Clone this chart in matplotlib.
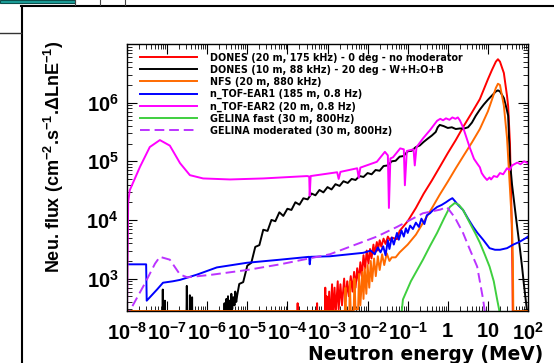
import numpy as np
import matplotlib
matplotlib.use("Agg")
import matplotlib.pyplot as plt
from matplotlib.ticker import LogLocator, NullFormatter
from matplotlib.lines import Line2D
from matplotlib.patches import Rectangle

plt.rcParams['font.family'] = ['Liberation Sans', 'DejaVu Sans']
plt.rcParams['font.weight'] = 'bold'
plt.rcParams['mathtext.fontset'] = 'custom'
plt.rcParams['mathtext.rm'] = 'Liberation Sans:bold'
plt.rcParams['mathtext.it'] = 'Liberation Sans:bold'
plt.rcParams['mathtext.bf'] = 'Liberation Sans:bold'
plt.rcParams['mathtext.default'] = 'rm'

# ---------------- data (energy in MeV, flux per lethargy) ----------------
x_ticks = [1e-8, 1e-7, 1e-6, 1e-5, 1e-4, 1e-3, 1e-2, 1e-1, 1, 10, 100]
x_tick_labels = ['$10^{-8}$', '$10^{-7}$', '$10^{-6}$', '$10^{-5}$', '$10^{-4}$',
                 '$10^{-3}$', '$10^{-2}$', '$10^{-1}$', '$1$', '$10$', '$10^{2}$']
y_ticks = [1e3, 1e4, 1e5, 1e6]
y_tick_labels = ['$10^{3}$', '$10^{4}$', '$10^{5}$', '$10^{6}$']

labels = ['DONES (20 m, 175 kHz) - 0 deg - no moderator',
          'DONES (10 m, 88 kHz) - 20 deg - W+H\u2082O+B',
          'NFS (20 m, 880 kHz)',
          'n_TOF-EAR1 (185 m, 0.8 Hz)',
          'n_TOF-EAR2 (20 m, 0.8 Hz)',
          'GELINA fast (30 m, 800Hz)',
          'GELINA moderated (30 m, 800Hz)']

dones20_E = [1e-8, 1.7e-4, 1.8e-4, 1.9e-4, 5.3e-4, 5.5e-4, 5.7e-4, 8.5e-4, 8.8e-4, 9.0e-4,
             9.5e-4, 1.0e-3, 1.1e-3, 1.15e-3, 1.3e-3, 1.35e-3, 1.5e-3, 1.6e-3, 1.8e-3, 1.9e-3,
             2.1e-3, 2.3e-3, 2.6e-3, 2.8e-3, 3.1e-3, 3.4e-3, 3.8e-3, 4.2e-3, 4.6e-3, 5.0e-3,
             5.5e-3, 6.0e-3, 6.6e-3, 7.2e-3, 7.9e-3, 8.7e-3, 9.5e-3, 1.05e-2, 1.15e-2, 1.25e-2,
             1.4e-2, 1.5e-2, 1.7e-2, 1.8e-2, 2.0e-2, 2.2e-2, 2.5e-2, 2.8e-2, 3.2e-2, 3.6e-2,
             4.0e-2, 5.4e-2, 6.3e-2, 0.1, 0.16, 0.25, 0.4, 0.63, 1.0, 1.58, 2.5, 4.0,
             6.3, 10, 12.6, 15.8, 17.8, 20, 25, 30, 32, 35.5, 40, 42]
dones20_F = [100, 100, 380, 100, 100, 380, 100, 100, 700, 150,
             500, 100, 600, 150, 800, 200, 700, 250, 900, 300,
             800, 350, 1000, 400, 900, 500, 1100, 600, 1300, 700,
             1500, 900, 1900, 1100, 2500, 1500, 3000, 1800, 3200, 2200,
             3800, 2600, 4200, 3000, 4500, 3500, 4800, 3900, 5200, 4500,
             5000, 4700, 6500, 9.5e3, 1.6e4, 2.8e4, 4.7e4, 8.0e4, 1.38e5, 2.3e5, 4.0e5, 6.8e5,
             1.15e6, 2.5e6, 3.6e6, 5.0e6, 5.5e6, 5.0e6, 3.2e6, 1.3e6, 8.7e5, 2.0e5, 5.0e3, 150]

dones10_E = [1e-8, 7.6e-8, 7.8e-8, 8.0e-8, 8.6e-8, 8.8e-8, 9.0e-8,
             3.0e-7, 3.1e-7, 3.2e-7, 3.6e-7, 3.7e-7, 3.8e-7, 4.1e-7, 4.2e-7, 4.3e-7,
             2.6e-6, 2.7e-6, 2.8e-6, 3.0e-6, 3.1e-6, 3.3e-6, 3.4e-6, 3.6e-6, 3.8e-6,
             4.0e-6, 4.2e-6, 4.5e-6, 4.8e-6, 5.0e-6, 5.3e-6, 5.6e-6,
             6.3e-6, 7.9e-6, 1.0e-5, 1.26e-5, 1.58e-5, 2.0e-5, 2.5e-5, 3.2e-5, 4.0e-5, 5.0e-5,
             6.3e-5, 7.9e-5, 1.0e-4, 1.26e-4, 1.58e-4, 2.0e-4, 2.5e-4, 3.2e-4, 4.0e-4, 5.0e-4,
             6.3e-4, 7.9e-4, 1.0e-3, 1.26e-3, 1.58e-3, 2.0e-3, 2.5e-3, 3.2e-3, 4.0e-3, 5.0e-3,
             6.3e-3, 7.9e-3, 1.0e-2, 1.26e-2, 1.58e-2, 2.0e-2, 2.5e-2, 3.2e-2, 4.0e-2, 5.0e-2,
             6.3e-2, 7.9e-2, 0.1, 0.126, 0.158, 0.2, 0.25, 0.32, 0.4, 0.5, 0.56, 0.63, 0.79,
             1.0, 1.26, 1.58, 2.0, 2.5, 3.2, 4.0, 5.0, 6.3, 7.9, 10, 12.6, 15.8, 17.8, 20, 25,
             28, 32, 35.5, 40, 50, 63, 71, 79, 89, 100]
dones10_F = [100, 100, 650, 100, 100, 420, 100,
             100, 750, 100, 100, 520, 100, 100, 480, 100,
             100, 380, 100, 450, 150, 500, 200, 420, 250,
             550, 300, 480, 350, 600, 400, 520,
             810, 870, 1.66e3, 1.86e3, 3.47e3, 3.72e3, 6.8e3, 6.5e3, 1.0e4, 9.5e3,
             1.35e4, 1.17e4, 1.55e4, 1.48e4, 2.0e4, 1.82e4, 2.34e4, 2.24e4, 2.82e4, 2.63e4,
             3.24e4, 2.95e4, 3.63e4, 3.31e4, 4.07e4, 3.8e4, 4.57e4, 4.27e4, 5.0e4, 4.8e4,
             5.6e4, 5.4e4, 6.3e4, 6.0e4, 7.1e4, 6.9e4, 8.3e4, 8.5e4, 1.0e5, 1.02e5,
             1.2e5, 1.23e5, 1.48e5, 1.51e5, 1.74e5, 1.86e5, 2.14e5, 2.45e5, 2.75e5, 3.16e5, 3.8e5, 4.17e5, 3.98e5,
             3.7e5, 3.8e5, 3.55e5, 3.63e5, 3.6e5, 3.8e5, 4.57e5, 6.0e5, 7.6e5, 9.3e5, 1.12e6, 1.32e6, 1.55e6, 1.62e6, 1.55e6, 1.2e6,
             8.9e5, 6.0e5, 1.0e5, 4.0e4, 1.12e4, 3.2e3, 1.6e3, 800, 400, 200]

nfs_E = [1e-8, 2.7e-3, 2.8e-3, 2.9e-3, 3.5e-3, 3.6e-3, 3.8e-3, 4.5e-3, 4.7e-3, 5.0e-3,
         5.8e-3, 6.1e-3, 6.6e-3, 7.4e-3, 7.9e-3, 8.5e-3, 9.3e-3, 1.0e-2, 1.1e-2, 1.2e-2,
         1.3e-2, 1.45e-2, 1.6e-2, 1.8e-2, 2.0e-2, 2.3e-2, 2.6e-2, 3.0e-2, 3.5e-2, 4.0e-2,
         5.0e-2, 6.3e-2, 0.1, 0.16, 0.25, 0.4, 0.63, 1.0, 1.58, 2.5, 4.0, 6.3, 10, 12.6,
         15.8, 17.8, 20, 25, 30, 35, 40, 42, 43, 100]
nfs_F = [280, 280, 700, 280, 280, 900, 280, 280, 1000, 300,
         300, 1200, 350, 1300, 450, 1500, 550, 1700, 700, 2000,
         900, 2200, 1100, 2400, 1400, 2600, 1700, 2700, 2000, 2300,
         2300, 2800, 3.8e3, 5.6e3, 9.3e3, 1.58e4, 2.7e4, 4.5e4, 7.6e4, 1.26e5, 2.1e5, 3.55e5, 7.1e5, 1.12e6,
         1.78e6, 2.1e6, 2.0e6, 8.9e5, 2.5e5, 4.0e4, 8.0e3, 2.0e3, 280, 280]

ear1_E = [1e-8, 3.0e-8, 3.1e-8, 5.6e-8, 7.9e-8, 1.4e-7, 2.1e-7, 5.6e-7, 1.74e-6, 9.8e-6,
          6.6e-5, 3.5e-4, 3.6e-4, 3.8e-4, 1.15e-3, 7.8e-3, 1.2e-2, 1.5e-2, 1.8e-2, 2.1e-2,
          2.45e-2, 2.8e-2, 3.2e-2, 3.5e-2, 4.0e-2, 4.5e-2, 5.4e-2, 6.0e-2, 7.0e-2, 8.0e-2,
          9.0e-2, 0.1, 0.115, 0.135, 0.16, 0.19, 0.22, 0.26, 0.3, 0.36, 0.42, 0.54, 0.7,
          0.9, 1.1, 1.3, 1.5, 1.8, 2.4, 3.2, 4.3, 5.5, 7.6, 11, 15, 20, 30, 43, 60, 80, 100]
ear1_F = [1.75e3, 1.75e3, 420, 650, 850, 900, 950, 1.17e3, 1.55e3, 1.86e3,
          2.1e3, 2.35e3, 1.75e3, 2.35e3, 2.4e3, 2.75e3, 3.0e3, 2.6e3, 3.4e3, 2.8e3,
          3.55e3, 2.5e3, 4.5e3, 3.2e3, 5.0e3, 3.8e3, 6.0e3, 4.6e3, 6.6e3, 5.2e3,
          7.2e3, 6.0e3, 8.0e3, 7.0e3, 9.0e3, 7.6e3, 1.05e4, 8.5e3, 1.2e4, 1.3e4, 1.45e4, 1.66e4, 1.8e4,
          2.0e4, 2.2e4, 2.35e4, 2.1e4, 1.8e4, 1.48e4, 1.05e4, 7.6e3, 6.0e3, 4.6e3, 3.3e3, 3.1e3, 3.1e3, 3.3e3, 3.8e3, 4.2e3, 4.7e3, 5.2e3]

ear2_E = [1.0e-8, 1.07e-8, 1.17e-8, 2.1e-8, 3.7e-8, 6.6e-8, 1.17e-7, 2.1e-7, 3.7e-7, 7.9e-7,
          3.7e-6, 2.5e-5, 3.1e-4, 3.5e-4, 3.6e-4, 3.8e-4, 1.74e-3, 1.9e-3, 2.1e-3, 5.5e-3,
          6.0e-3, 6.6e-3, 1.7e-2, 2.7e-2, 3.2e-2, 3.4e-2, 3.7e-2, 4.3e-2, 6.5e-2, 8.0e-2,
          8.5e-2, 9.5e-2, 0.14, 0.15, 0.166, 0.24, 0.36, 0.54, 0.65, 0.76, 0.9, 1.1, 1.3,
          1.55, 1.78, 2.0, 2.4, 3.5, 4.5, 5.5, 6.3, 7.0, 8.0, 9.5, 11, 12, 14, 17, 20, 24,
          30, 35, 40, 54, 65, 80, 100]
ear2_F = [2.5e2, 2.0e4, 3.2e4, 8.0e4, 1.75e5, 2.3e5, 1.85e5, 9.3e4, 5.8e4, 5.1e4,
          4.9e4, 5.1e4, 5.6e4, 5.5e4, 2.6e4, 5.6e4, 6.5e4, 5.0e4, 6.6e4, 7.6e4,
          5.2e4, 7.8e4, 9.8e4, 1.45e5, 1.26e5, 1.6e4, 1.12e5, 1.17e5, 1.66e5, 1.6e5,
          3.9e4, 1.5e5, 1.6e5, 8.5e4, 1.74e5, 2.45e5, 3.4e5, 4.9e5, 5.3e5, 5.0e5, 5.4e5, 5.1e5, 5.6e5,
          5.3e5, 5.6e5, 5.0e5, 3.8e5, 1.74e5, 1.1e5, 9.0e4, 7.9e4, 6.3e4, 5.5e4, 4.8e4, 5.3e4, 4.9e4, 5.6e4, 5.4e4, 6.3e4, 6.0e4,
          7.6e4, 7.1e4, 8.5e4, 9.5e4, 8.9e4, 1.0e5, 9.3e4]

gelina_fast_E = [0.07, 0.076, 0.12, 0.24, 0.36, 0.54, 0.8, 1.12, 1.5, 1.9, 2.4, 3.5, 4.8, 6.3, 8.5, 11, 14, 17, 20]
gelina_fast_F = [250, 440, 900, 2.1e3, 3.6e3, 6.0e3, 1.05e4, 1.66e4, 1.95e4, 1.8e4, 1.48e4, 9.0e3, 6.0e3, 4.1e3, 2.5e3, 1.6e3, 900, 440, 250]

gelina_mod_E = [1.0e-8, 1.17e-8, 2.8e-8, 5.0e-8, 6.6e-8, 1.17e-7, 2.1e-7, 3.2e-7, 1.38e-6, 9.8e-6,
                6.6e-5, 1.15e-3, 1.7e-2, 5.4e-2, 0.24, 0.65, 0.95, 1.5, 2.4, 3.5, 5.4, 7.6, 8.5]
gelina_mod_F = [200, 280, 830, 1.8e3, 2.35e3, 2.1e3, 1.17e3, 1.05e3, 1.17e3, 1.4e3,
                1.75e3, 2.6e3, 5.2e3, 7.6e3, 1.3e4, 1.5e4, 1.66e4, 1.1e4, 6.0e3, 3.2e3, 1.6e3, 440, 250]

series = [(dones20_E, dones20_F), (dones10_E, dones10_F), (nfs_E, nfs_F), (ear1_E, ear1_F),
          (ear2_E, ear2_F), (gelina_fast_E, gelina_fast_F), (gelina_mod_E, gelina_mod_F)]
colors = ['#ff0000', '#000000', '#ff6a00', '#0000ff', '#ff00ff', '#3fcf3f', '#bb33ff']
styles = ['-', '-', '-', '-', '-', '-', (0, (5, 2.5))]

# ---------------- figure ----------------
W, H = 554, 363
fig = plt.figure(figsize=(W / 100, H / 100), dpi=100)
ax = fig.add_axes([127 / W, 1 - 311 / H, (528 - 127) / W, (311 - 44) / H])

for (e, f), c, ls, lab in zip(series, colors, styles, labels):
    ax.plot(e, f, color=c, ls=ls, lw=1.4, label=lab)

ax.set_xscale('log')
ax.set_yscale('log')
ax.set_xlim(1e-8, 1e2)
ax.set_ylim(2.8e2, 1.0e7)
ax.set_xticks(x_ticks)
ax.set_xticklabels(x_tick_labels)
ax.set_yticks(y_ticks)
ax.set_yticklabels(y_tick_labels)
ax.xaxis.set_minor_locator(LogLocator(base=10, subs=np.arange(2, 10), numticks=200))
ax.yaxis.set_minor_locator(LogLocator(base=10, subs=np.arange(2, 10), numticks=200))
ax.xaxis.set_minor_formatter(NullFormatter())
ax.yaxis.set_minor_formatter(NullFormatter())
ax.tick_params(which='both', direction='in', top=True, right=True, labelsize=14.5)
ax.tick_params(which='major', length=7, width=0.8)
ax.tick_params(axis='x', which='major', pad=8)
ax.tick_params(axis='y', which='major', pad=6)
ax.tick_params(which='minor', length=3.5, width=0.6)
for s in ax.spines.values():
    s.set_linewidth(1.0)

ax.set_ylabel('Neu. flux (cm$^{-2}$.s$^{-1}$.\u0394LnE$^{-1}$)', fontsize=13, fontweight='bold', loc='top')
ax.yaxis.set_label_coords(-0.152, 1.012)
fig.text(543 / W, 1 - 355 / H, 'Neutron energy (MeV)', fontsize=13.4, fontweight='bold',
         family=['DejaVu Sans'], ha='right', va='center')

ax.legend(loc='upper left', bbox_to_anchor=(0.032, 0.968), frameon=False,
          prop={'family': ['DejaVu Sans'], 'weight': 'bold', 'size': 6.9},
          handlelength=6.0, handletextpad=1.35, labelspacing=0.22, borderaxespad=0, borderpad=0)

# slide decorations around the chart
fig.add_artist(Rectangle((0, 1 - 3 / H), 75 / W, 3 / H, transform=fig.transFigure, color='#1a9f9a', ec='#0b4f4c', lw=0.8))
fig.add_artist(Line2D([21 / W, 1], [1 - 5.5 / H, 1 - 5.5 / H], transform=fig.transFigure, color='black', lw=1.5))
fig.add_artist(Line2D([21.5 / W, 21.5 / W], [0, 1 - 5.5 / H], transform=fig.transFigure, color='black', lw=1.5))
fig.add_artist(Line2D([0, 21 / W], [1 - 33 / H, 1 - 33 / H], transform=fig.transFigure, color='#333333', lw=1.0))
for x0 in (75, 100, 125):
    fig.add_artist(Line2D([x0 / W, x0 / W], [1 - 5 / H, 1], transform=fig.transFigure, color='#444444', lw=0.8))

fig.savefig('out.png', dpi=100)
